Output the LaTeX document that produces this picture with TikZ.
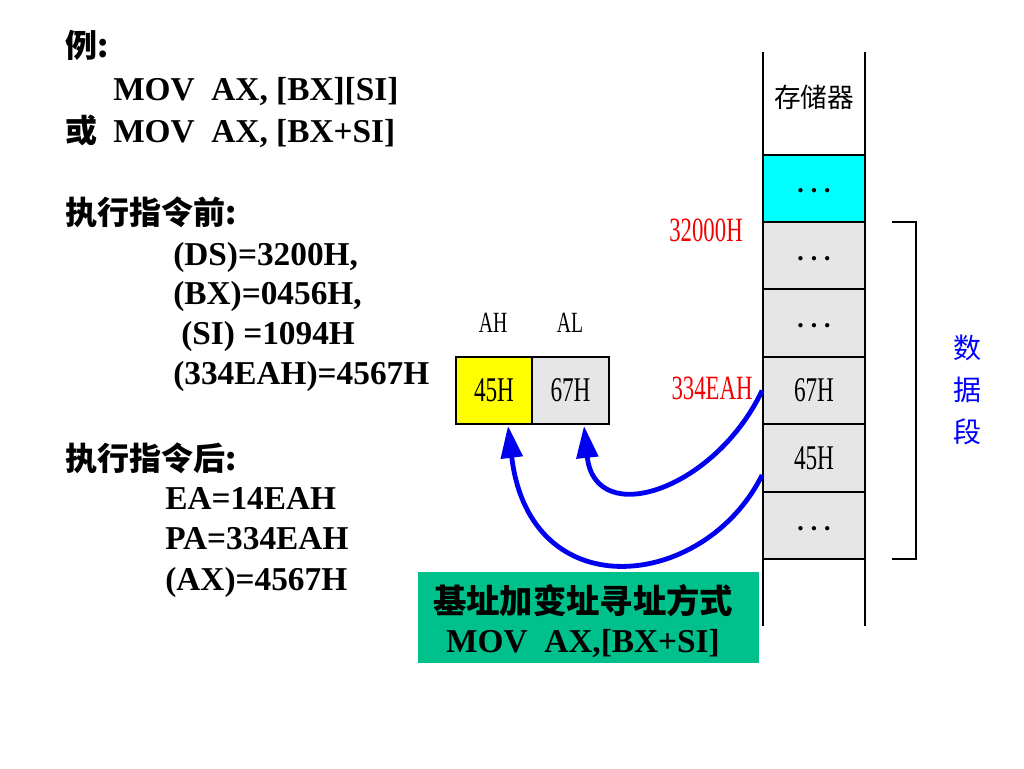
\documentclass[tikz,border=0pt]{standalone}
\usepackage{fontspec}
\setmainfont{Liberation Serif}
\newfontfamily\cjk{Noto Sans CJK SC}
\newfontfamily\narrow[FakeStretch=0.67]{Liberation Serif}
\usetikzlibrary{arrows.meta,calc}
\definecolor{cellgray}{HTML}{E6E6E6}
\definecolor{cellcyan}{HTML}{00FFFF}
\definecolor{regyellow}{HTML}{FFFF00}
\definecolor{boxgreen}{HTML}{00C08C}
\definecolor{arrowblue}{HTML}{0000F0}
\definecolor{addrred}{HTML}{F00000}
\begin{document}
\begin{tikzpicture}[x=0.75pt,y=-0.75pt,
  btxt/.style={anchor=base west,inner sep=0pt,font=\fontsize{25}{30}\selectfont\bfseries},
  ctxt/.style={anchor=west,inner sep=0pt,font=\fontsize{24}{30}\selectfont\cjk\bfseries},
  memcell/.style={draw=black,line width=1.3pt,minimum width=76.5pt,minimum height=50.5pt,inner sep=0pt,fill=cellgray},
  regcell/.style={draw=black,line width=1.3pt,minimum height=50.25pt,inner sep=0pt},
  narrowtxt/.style={inner sep=0pt,font=\fontsize{26}{30}\selectfont\narrow},
  dotstxt/.style={inner sep=0pt,font=\fontsize{20}{24}\selectfont\bfseries},
  redlbl/.style={inner sep=0pt,text=addrred,font=\fontsize{25.5}{30}\selectfont\narrow},
  flow/.style={draw=arrowblue,line width=3.6pt,-{Triangle[length=24pt,width=16pt]}}
]
\useasboundingbox (0,0) rectangle (1024,768);
% left texts
\node[ctxt] (ex) at (65,45) {例:};
\node[btxt] (i1) at (113,100) {MOV\ \ AX, [BX][SI]};
\node[ctxt] (or) at (65,130) {或};
\node[btxt] (i2) at (113,142) {MOV\ \ AX, [BX+SI]};
\node[ctxt] (bef) at (65,212) {执行指令前:};
\node[btxt] (ds) at (173,265) {(DS)=3200H,};
\node[btxt] (bx) at (173,304) {(BX)=0456H,};
\node[btxt] (si) at (181,344) {(SI) =1094H};
\node[btxt] (mem) at (173,384) {(334EAH)=4567H};
\node[ctxt] (aft) at (65,458) {执行指令后:};
\node[btxt] (ea) at (165,509) {EA=14EAH};
\node[btxt] (pa) at (165,549) {PA=334EAH};
\node[btxt] (ax) at (165,590) {(AX)=4567H};
% register
\node[regcell,fill=regyellow,minimum width=57pt,narrowtxt] (ah) at (494,390.5) {45H};
\node[regcell,fill=cellgray,minimum width=57.75pt,narrowtxt] (al) at (570.5,390.5) {67H};
\node[narrowtxt,font=\fontsize{22}{26}\selectfont\narrow] (ahl) at (493,323) {AH};
\node[narrowtxt,font=\fontsize{22}{26}\selectfont\narrow] (all) at (570,323) {AL};
% memory column
\coordinate (mtl) at (763,52);
\coordinate (mtr) at (865,52);
\coordinate (mbl) at (763,626);
\coordinate (mbr) at (865,626);
\draw[line width=1.3pt] (mtl) -- (mbl) (mtr) -- (mbr);
\node[inner sep=0pt,font=\fontsize{20}{24}\selectfont\cjk] (mname) at (814,97) {存储器};
\node[memcell,fill=cellcyan] (m0) at (814,188.5) {};
\node[memcell] (m1) at (814,255.5) {};
\node[memcell] (m2) at (814,323) {};
\node[memcell,narrowtxt] (m3) at (814,390.5) {67H};
\node[memcell,narrowtxt] (m4) at (814,458) {45H};
\node[memcell] (m5) at (814,525.5) {};
\node[dotstxt] (d0) at (814,194) {·\,·\,·};
\node[dotstxt] (d1) at (814,262) {·\,·\,·};
\node[dotstxt] (d2) at (814,329) {·\,·\,·};
\node[dotstxt] (d5) at (814,532) {·\,·\,·};
% address labels
\node[redlbl] (a1) at (706,230) {32000H};
\node[redlbl] (a2) at (712,388) {334EAH};
% bracket
\coordinate (bt) at (892,222);
\coordinate (bb) at (892,559);
\draw[line width=1.3pt] (bt) -- (916,222) -- (916,559) -- (bb);
\node[inner sep=0pt,align=center,text=blue,font=\fontsize{21}{31.5}\selectfont\cjk] (seg) at (967,390) {数\\据\\段};
% green box
\node[fill=boxgreen,minimum width=255.75pt,minimum height=68.25pt,inner sep=0pt] (gb) at (588.5,617.5) {};
\node[inner sep=0pt,font=\fontsize{25}{28}\selectfont\cjk\bfseries] (gb1) at (583,601) {基址加变址寻址方式};
\node[inner sep=0pt,anchor=base,font=\fontsize{25}{30}\selectfont\bfseries] (gb2) at (583,652) {MOV\ \ AX,[BX+SI]};
% arrows
\draw[flow] (m3.west) .. controls (715,490) and (595,530) .. ($(al.south)+(13.5,1)$);
\draw[flow] ($(m4.west)+(0,17)$) .. controls (705,590) and (530,610) .. ($(ah.south)+(14,1)$);
\end{tikzpicture}
\end{document}
